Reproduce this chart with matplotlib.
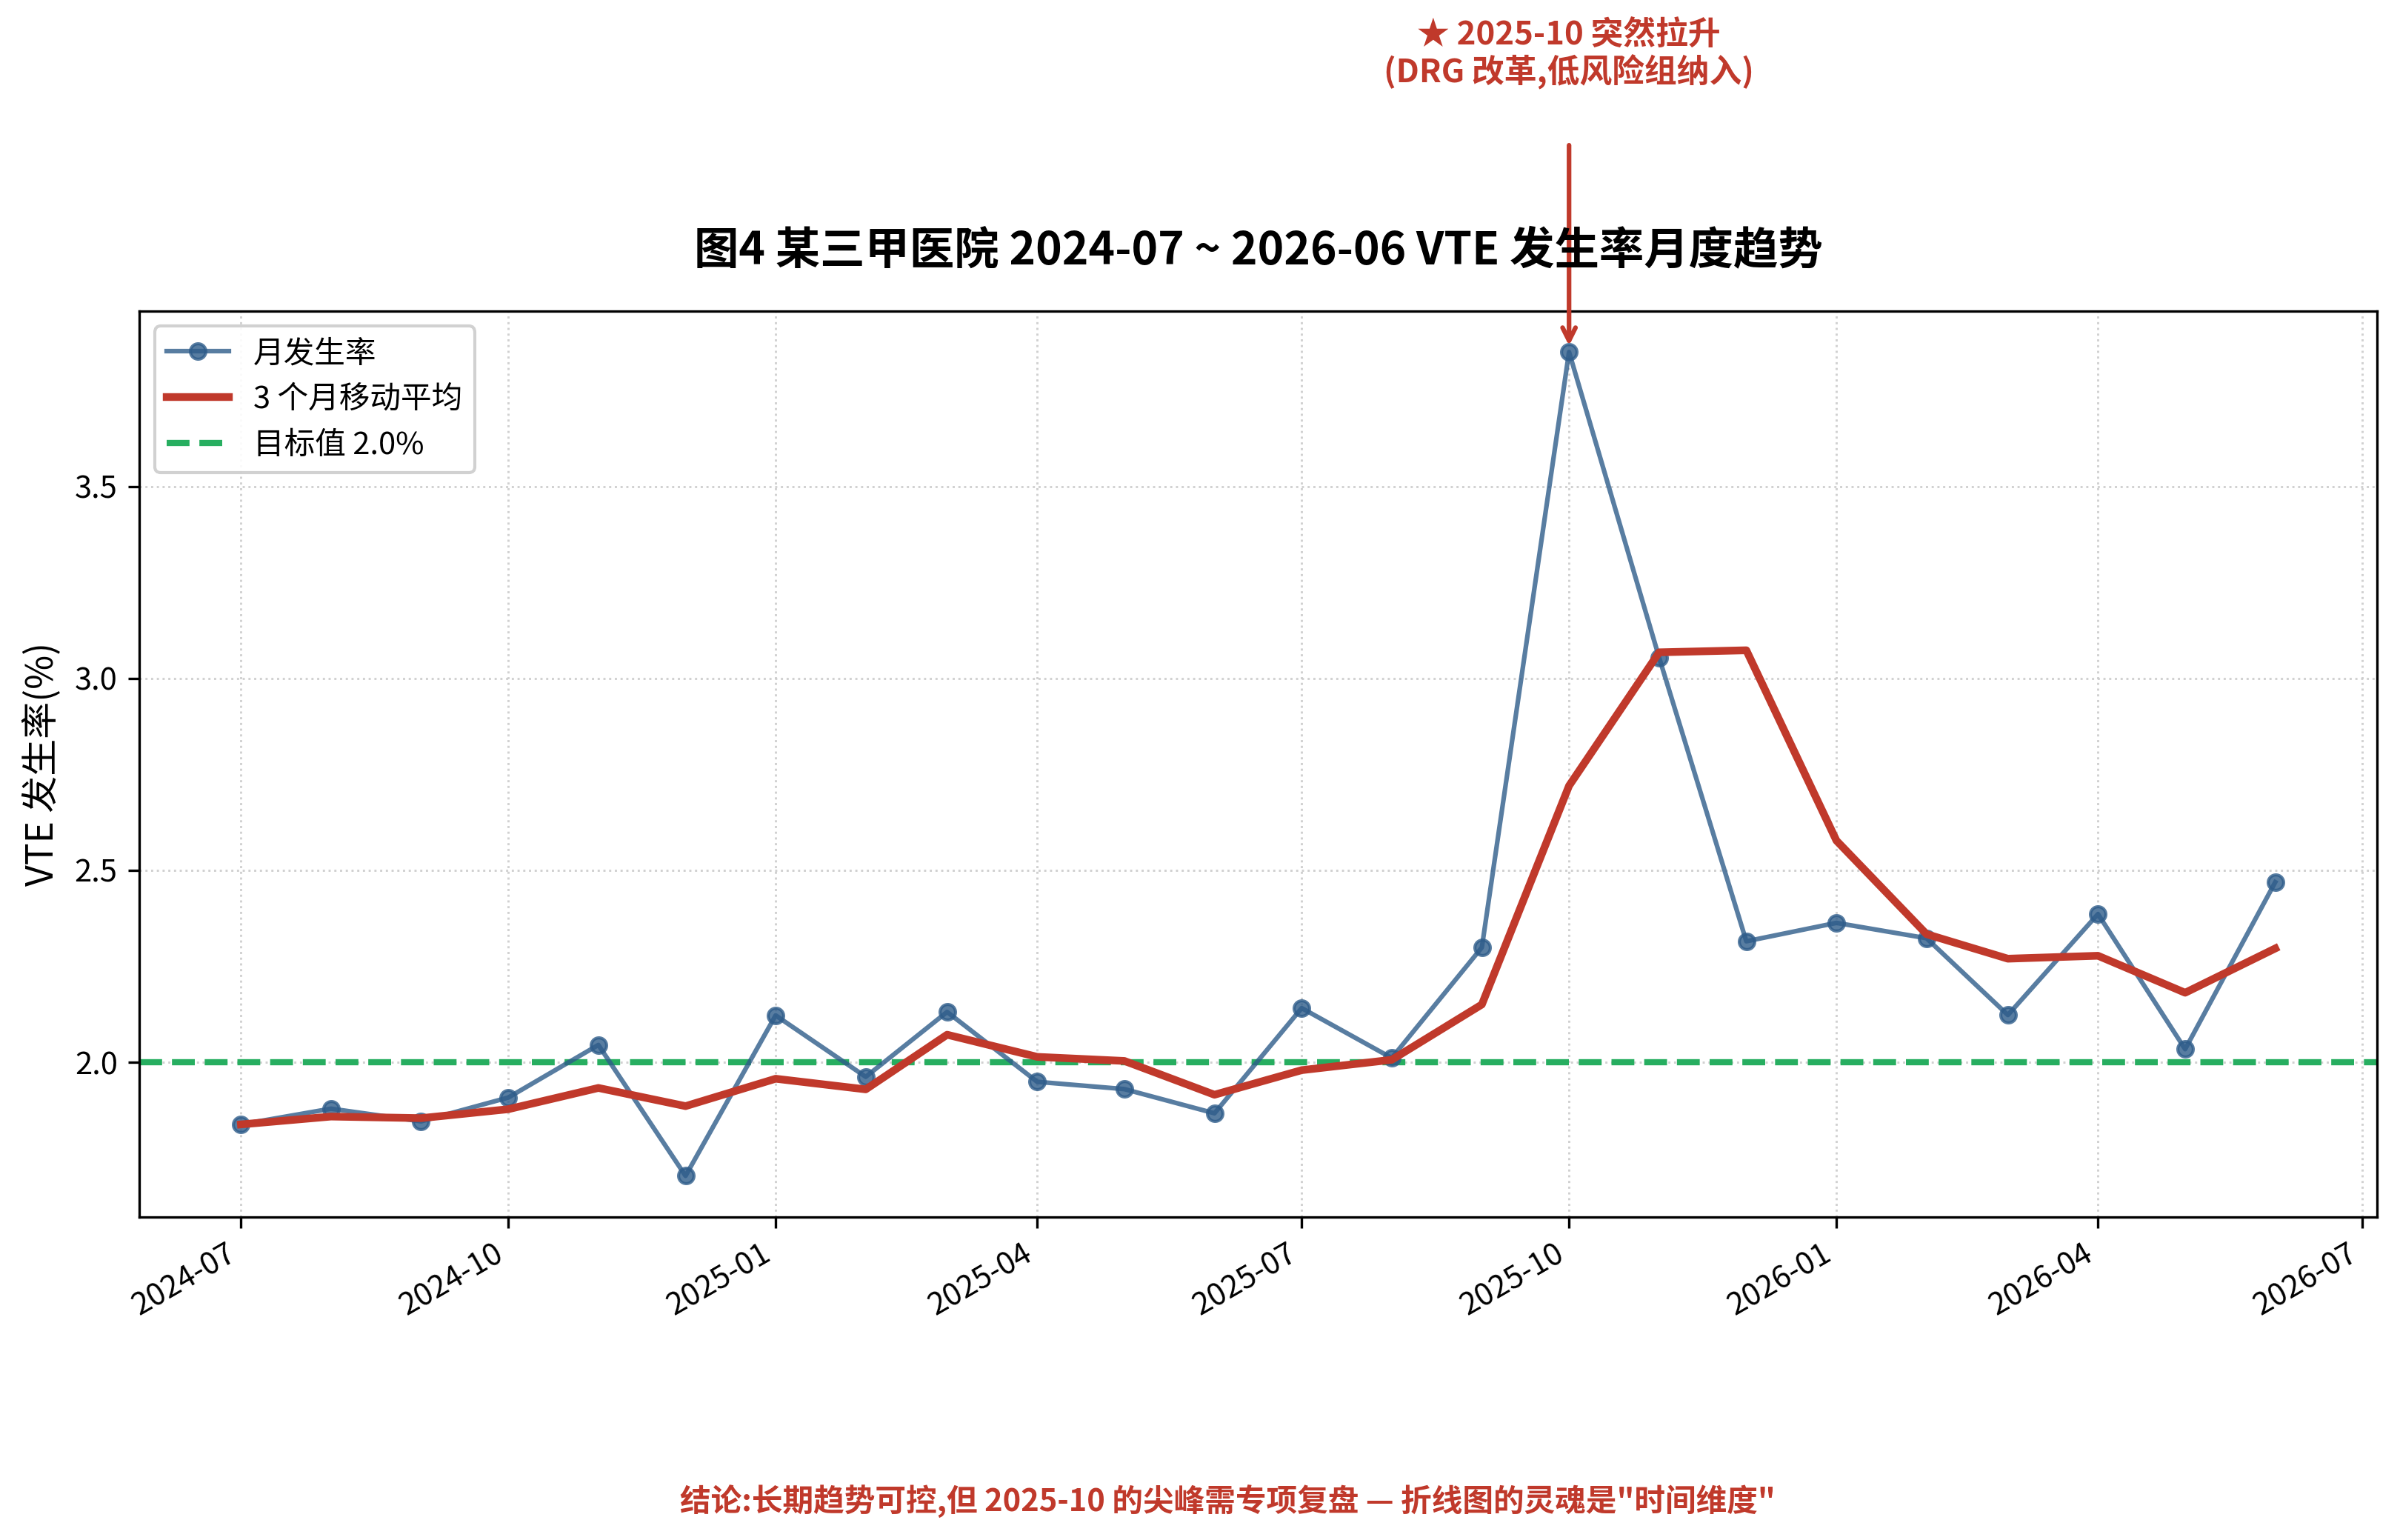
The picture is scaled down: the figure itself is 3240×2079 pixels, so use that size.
import matplotlib
matplotlib.use("Agg")
import matplotlib.pyplot as plt
import matplotlib.dates as mdates
import pandas as pd
import numpy as np

plt.rcParams['font.family'] = ['Noto Sans CJK SC', 'DejaVu Sans']
plt.rcParams['axes.unicode_minus'] = False

months = ["2024-07", "2024-08", "2024-09", "2024-10", "2024-11", "2024-12",
          "2025-01", "2025-02", "2025-03", "2025-04", "2025-05", "2025-06",
          "2025-07", "2025-08", "2025-09", "2025-10", "2025-11", "2025-12",
          "2026-01", "2026-02", "2026-03", "2026-04", "2026-05", "2026-06"]
rates = [1.838, 1.879, 1.846, 1.908, 2.045, 1.704,
         2.122, 1.962, 2.131, 1.949, 1.930, 1.867,
         2.141, 2.011, 2.299, 3.850, 3.054, 2.315,
         2.363, 2.323, 2.123, 2.386, 2.034, 2.469]
target = 2.0
spike_month = "2025-10"

dates = pd.to_datetime(months)
s = pd.Series(rates, index=dates)
ma3 = s.rolling(3, min_periods=1).mean()

DPI = 300
fig = plt.figure(figsize=(3240 / DPI, 2079 / DPI), dpi=DPI)
ax = fig.add_axes([0.058, 0.2097, 0.9324, 0.5885])

ax.plot(dates, s.values, color='#2E5C8A', alpha=0.8, marker='o', markersize=5,
        linewidth=1.5, label='月发生率', zorder=3)
ax.plot(dates, ma3.values, color='#C0392B', linewidth=2.5, label='3 个月移动平均', zorder=4)
ax.axhline(target, color='#27AE60', linestyle='--', linewidth=2, label='目标值 2.0%', zorder=2)

ax.grid(True, linestyle=':', color='#cccccc', linewidth=0.7, alpha=0.9)
ax.set_axisbelow(True)

ax.xaxis.set_major_locator(mdates.MonthLocator(bymonth=[1, 4, 7, 10]))
ax.xaxis.set_major_formatter(mdates.DateFormatter('%Y-%m'))
for lbl in ax.get_xticklabels():
    lbl.set_rotation(30)
    lbl.set_ha('right')
ax.tick_params(axis='both', labelsize=10)

ax.set_ylabel('VTE 发生率(%)', fontsize=12)
ax.set_title('图4 某三甲医院 2024-07 ~ 2026-06 VTE 发生率月度趋势', fontsize=14.5,
             fontweight='bold', pad=15)

sd = pd.Timestamp(spike_month)
ax.annotate('★ 2025-10 突然拉升\n(DRG 改革,低风险组纳入)',
            xy=(sd, s[sd]), xytext=(sd, 4.625), textcoords='data',
            ha='center', va='center', fontsize=10.5, fontweight='bold', color='#C0392B',
            linespacing=1.1,
            arrowprops=dict(arrowstyle='->', color='#C0392B', lw=1.5, shrinkA=16, shrinkB=2),
            annotation_clip=False)

ax.legend(loc='upper left', fontsize=10, frameon=True, framealpha=0.9, edgecolor='#cccccc')

fig.text(0.5115, 0.025, '结论:长期趋势可控,但 2025-10 的尖峰需专项复盘 — 折线图的灵魂是"时间维度"',
         ha='center', va='center', fontsize=10, fontweight='bold', color='#C0392B')

fig.savefig('out.png', dpi=DPI)
